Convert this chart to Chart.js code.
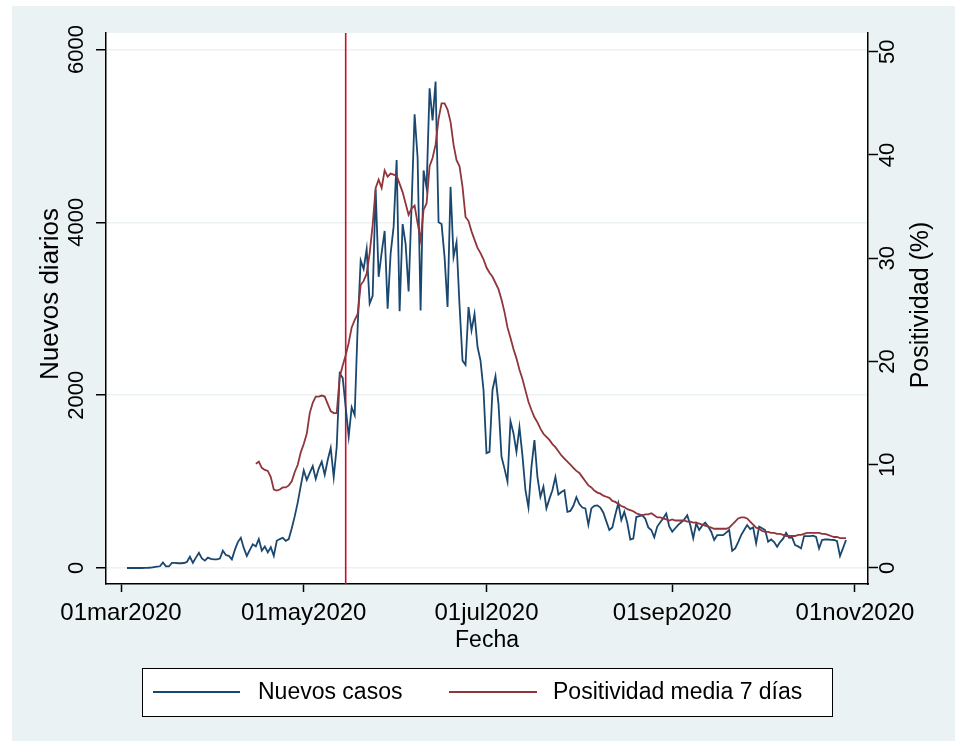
<!DOCTYPE html>
<html>
<head>
<meta charset="utf-8">
<script src="https://cdn.jsdelivr.net/npm/chart.js@4.4.1/dist/chart.umd.min.js"></script>
<style>
  html, body { margin: 0; padding: 0; background: #ffffff; }
  canvas { display: block; }
</style>
</head>
<body>
<canvas id="c" width="961" height="747"></canvas>
<script>
// ---------------- DATA ----------------
// x values are days since 01mar2020
const tickDays   = [0, 61, 122, 184, 245];
const tickLabels = ["01mar2020", "01may2020", "01jul2020", "01sep2020", "01nov2020"];
const leftTicks  = [0, 2000, 4000, 6000];
const rightTicks = [0, 10, 20, 30, 40, 50];
const xlineDay   = 75; // 15may2020

const casosStartDay = 2;   // 03mar2020
const casos = [
  0, 0, 0, 0, 0, 0, 2, 3, 5, 10,
  15, 20, 65, 20, 18, 60, 60, 55, 55, 58,
  70, 130, 60, 120, 175, 110, 85, 120, 105, 100,
  100, 110, 200, 150, 140, 100, 210, 300, 350, 230,
  140, 210, 275, 250, 335, 200, 250, 180, 240, 140,
  315, 335, 350, 315, 335, 460, 600, 760, 950, 1130,
  1020, 1100, 1180, 1030, 1150, 1230, 1080, 1250, 1390, 1050,
  1400, 2250, 2200, 1860, 1520, 1860, 1770, 2800, 3560, 3460,
  3690, 3060, 3150, 4380, 3370, 3650, 3900, 3000, 3640, 3950,
  4720, 2970, 3980, 3750, 3200, 4200, 5250, 4750, 2980, 4600,
  4400, 5550, 5180, 5630, 4000, 3980, 3600, 3020, 4410, 3600,
  3770, 3040, 2400, 2350, 3020, 2750, 2940, 2560, 2400, 2060,
  1330, 1345, 2060, 2220, 1900, 1290, 1150, 1000, 1700, 1560,
  1345, 1630, 1300, 900, 700, 1170, 1480, 1055, 824, 940,
  690, 800, 900, 1055, 850, 880, 900, 650, 660, 720,
  820, 740, 700, 690, 500, 690, 720, 725, 700, 640,
  540, 440, 470, 620, 750, 555, 650, 520, 330, 340,
  590, 600, 610, 570, 470, 440, 355, 480, 530, 575,
  630, 480, 420, 460, 500, 530, 560, 610, 500, 345,
  515, 440, 490, 525, 480, 420, 325, 380, 380, 380,
  410, 440, 200, 227, 300, 380, 440, 497, 450, 470,
  285, 478, 460, 440, 304, 330, 300, 246, 300, 340,
  408, 350, 355, 266, 250, 227, 370, 370, 370, 375,
  360, 227, 324, 330, 330, 325, 324, 310, 139, 230,
  324
];

const positividadStartDay = 45; // 15apr2020
const positividad = [
  10.1, 10.3, 9.7, 9.5, 9.4, 8.8, 7.6, 7.5, 7.6, 7.8,
  7.8, 8.0, 8.4, 9.3, 10.0, 11.2, 12.0, 13.0, 15.0, 16.0,
  16.6, 16.6, 16.7, 16.6, 15.9, 15.2, 15.0, 15.0, 18.5, 19.6,
  20.6, 21.8, 23.3, 24.0, 24.6, 27.4, 27.8, 28.5, 30.5, 33.2,
  36.8, 37.6, 36.8, 38.5, 37.9, 38.2, 38.1, 38.0, 37.2, 36.4,
  35.3, 34.2, 34.8, 35.1, 33.4, 31.8, 34.7, 35.3, 38.9, 39.7,
  41.0, 43.5, 45.0, 45.0, 44.4, 43.2, 41.0, 39.5, 38.9, 36.9,
  34.0, 33.6, 32.6, 31.8, 31.0, 30.5, 29.9, 29.1, 28.6, 28.2,
  27.6, 27.0, 26.0, 24.8, 23.3, 22.3, 21.2, 20.3, 19.2, 18.3,
  17.2, 16.1, 15.3, 14.6, 14.1, 13.5, 13.0, 12.7, 12.4, 12.0,
  11.7, 11.3, 10.9, 10.6, 10.3, 10.0, 9.7, 9.4, 9.2, 8.8,
  8.4, 8.0, 7.8, 7.5, 7.3, 7.2, 7.0, 6.9, 6.8, 6.5,
  6.4, 6.2, 6.0, 5.9, 5.7, 5.6, 5.5, 5.3, 5.2, 5.1,
  5.2, 5.2, 5.3, 5.1, 4.9, 4.9, 4.8, 4.7, 4.6, 4.7,
  4.6, 4.6, 4.6, 4.6, 4.5, 4.5, 4.4, 4.4, 4.3, 4.2,
  4.1, 4.0, 3.9, 3.8, 3.8, 3.8, 3.8, 3.8, 3.9, 4.2,
  4.5, 4.8, 4.9, 4.9, 4.8, 4.5, 4.2, 3.9, 3.8, 3.6,
  3.5, 3.5, 3.4, 3.4, 3.3, 3.3, 3.2, 3.1, 3.1, 3.1,
  3.1, 3.2, 3.2, 3.3, 3.4, 3.4, 3.4, 3.4, 3.4, 3.3,
  3.3, 3.2, 3.1, 3.0, 3.0, 2.9, 2.9, 2.9
];

const seriesNames = ["Nuevos casos", "Positividad media 7 días"];
const yTitleLeft  = "Nuevos diarios";
const yTitleRight = "Positividad (%)";
const xTitle      = "Fecha";

// ---------------- STYLE ----------------
const FONT = "'Liberation Sans', Arial, sans-serif";
const NAVY = '#1a476f';
const MAROON = '#90353b';
const XLINE = '#c8102e';
const BG = '#eaf2f3';

Chart.defaults.font.family = FONT;
Chart.defaults.color = '#000000';

const X_MIN = -5.007, X_MAX = 249.34;
const YL_MIN = -185.1, YL_MAX = 6190.9;
const YR_MIN = -1.55, YR_MAX = 51.81;

const bgPlugin = {
  id: 'bgPlugin',
  beforeDraw(chart) {
    const { ctx, chartArea: a } = chart;
    ctx.save();
    ctx.fillStyle = '#ffffff';
    ctx.fillRect(0, 0, chart.width, chart.height);
    ctx.fillStyle = BG;
    ctx.fillRect(12, 6, 943, 735);
    ctx.fillStyle = '#ffffff';
    ctx.fillRect(a.left, a.top, a.right - a.left, a.bottom - a.top);
    ctx.restore();
  }
};

function vText(ctx, text, x, y) {
  ctx.save();
  ctx.translate(x, y);
  ctx.rotate(-Math.PI / 2);
  ctx.textAlign = 'center';
  ctx.textBaseline = 'middle';
  ctx.fillText(text, 0, 0);
  ctx.restore();
}

const textPlugin = {
  id: 'textPlugin',
  afterDraw(chart) {
    const { ctx, chartArea: a } = chart;
    const yl = chart.scales.y, yr = chart.scales.y2;
    ctx.save();
    ctx.fillStyle = '#000';
    ctx.font = `22px ${FONT}`;
    leftTicks.forEach(v => vText(ctx, String(v), 77, yl.getPixelForValue(v)));
    rightTicks.forEach(v => vText(ctx, String(v), 888, yr.getPixelForValue(v)));
    ctx.font = `26px ${FONT}`;
    vText(ctx, yTitleLeft, 51, 294);
    ctx.font = `25px ${FONT}`;
    vText(ctx, yTitleRight, 921, 305);

    // legend
    const lx = 142, ly = 668, lw = 690, lh = 48;
    ctx.fillStyle = '#ffffff';
    ctx.fillRect(lx, ly, lw, lh);
    ctx.strokeStyle = '#000';
    ctx.lineWidth = 1;
    ctx.strokeRect(lx + 0.5, ly + 0.5, lw, lh);
    const cy = ly + lh / 2;
    ctx.lineWidth = 1.8;
    ctx.strokeStyle = NAVY;
    ctx.beginPath(); ctx.moveTo(153, cy); ctx.lineTo(240, cy); ctx.stroke();
    ctx.strokeStyle = MAROON;
    ctx.beginPath(); ctx.moveTo(449, cy); ctx.lineTo(537, cy); ctx.stroke();
    ctx.fillStyle = '#000';
    ctx.font = `23px ${FONT}`;
    ctx.textAlign = 'left';
    ctx.textBaseline = 'middle';
    ctx.fillText(seriesNames[0], 258, cy + 1);
    ctx.fillText(seriesNames[1], 553, cy + 1);
    ctx.restore();
  }
};

const casosData = casos.map((v, i) => ({ x: casosStartDay + i, y: v }));
const posData = positividad.map((v, i) => ({ x: positividadStartDay + i, y: v }));
const xlineData = [{ x: xlineDay, y: YL_MIN }, { x: xlineDay, y: YL_MAX }];

new Chart(document.getElementById('c'), {
  type: 'line',
  data: {
    datasets: [
      {
        label: seriesNames[1], data: posData, yAxisID: 'y2',
        borderColor: MAROON, borderWidth: 1.8, pointRadius: 0, tension: 0, order: 0
      },
      {
        label: seriesNames[0], data: casosData, yAxisID: 'y',
        borderColor: NAVY, borderWidth: 1.8, pointRadius: 0, tension: 0, order: 1
      },
      {
        label: 'xline', data: xlineData, yAxisID: 'y',
        borderColor: XLINE, borderWidth: 1.6, pointRadius: 0, order: 2
      }
    ]
  },
  options: {
    responsive: false,
    animation: false,
    events: [],
    layout: { padding: { top: 33, bottom: 92, left: 0, right: 0 } },
    plugins: { legend: { display: false }, tooltip: { enabled: false } },
    scales: {
      x: {
        type: 'linear', position: 'bottom', min: X_MIN, max: X_MAX,
        afterBuildTicks: s => { s.ticks = tickDays.map(v => ({ value: v })); },
        afterFit: s => { s.height = 71; },
        ticks: {
          font: { size: 24 }, color: '#000', padding: 7, maxRotation: 0, autoSkip: false,
          callback: (v) => { const i = tickDays.indexOf(v); return i >= 0 ? tickLabels[i] : ''; }
        },
        grid: { drawOnChartArea: false, drawTicks: true, tickLength: 8, tickColor: '#000', tickWidth: 1.5 },
        border: { display: true, color: '#000', width: 1.5 },
        title: { display: true, text: xTitle, font: { size: 23 }, color: '#000', padding: { top: 0, bottom: 1 } }
      },
      y: {
        type: 'linear', position: 'left', min: YL_MIN, max: YL_MAX,
        afterBuildTicks: s => { s.ticks = leftTicks.map(v => ({ value: v })); },
        afterFit: s => { s.width = 106; },
        ticks: { display: false },
        grid: { drawOnChartArea: true, color: BG, lineWidth: 1.5, drawTicks: true, tickLength: 10, tickColor: '#000', tickWidth: 1.5 },
        border: { display: true, color: '#000', width: 1.5 }
      },
      y2: {
        type: 'linear', position: 'right', min: YR_MIN, max: YR_MAX,
        afterBuildTicks: s => { s.ticks = rightTicks.map(v => ({ value: v })); },
        afterFit: s => { s.width = 93; },
        ticks: { display: false },
        grid: { drawOnChartArea: false, drawTicks: true, tickLength: 10, tickColor: '#000', tickWidth: 1.5 },
        border: { display: true, color: '#000', width: 1.5 }
      }
    }
  },
  plugins: [bgPlugin, textPlugin]
});
</script>
</body>
</html>
